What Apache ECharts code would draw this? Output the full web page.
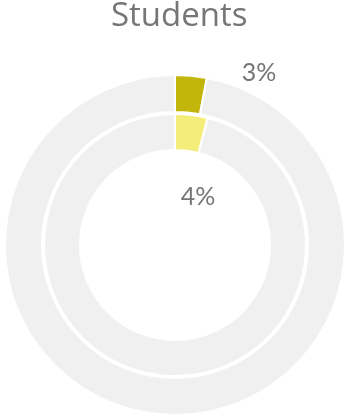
<!DOCTYPE html>
<html>
<head>
<meta charset="utf-8">
<script src="https://cdn.jsdelivr.net/npm/echarts@6/dist/echarts.min.js"></script>
<style>
  html, body { margin: 0; padding: 0; background: #fff; }
  #chart { width: 346px; height: 416px; }
</style>
</head>
<body>
<div id="chart"></div>
<script>
// Share of students, two rings: outer and inner measure
const titleText = 'Students';
const outerValues = [3, 97];
const innerValues = [4, 96];
const outerColors = ['#c2b50c', '#f0f0f0'];
const innerColors = ['#f4ed7a', '#f0f0f0'];

const chart = echarts.init(document.getElementById('chart'));

function ringData(values, colors) {
  return values.map((v, i) => ({
    value: v,
    itemStyle: { color: colors[i] },
    label: { show: i === 0 }
  }));
}

const labelStyle = {
  formatter: '{c}%',
  fontFamily: 'Lato',
  fontSize: 25,
  color: '#767676'
};

chart.setOption({
  animation: false,
  title: {
    text: titleText,
    left: 106,
    top: -5,
    textStyle: {
      fontFamily: 'Open Sans',
      fontWeight: 'normal',
      fontSize: 33,
      color: '#767676'
    }
  },
  series: [
    {
      type: 'pie',
      center: [175, 245],
      radius: [133, 170],
      startAngle: 90,
      clockwise: true,
      silent: true,
      itemStyle: { borderColor: '#fff', borderWidth: 2 },
      label: Object.assign({ position: 'outside' }, labelStyle),
      labelLine: { show: false },
      labelLayout: function () {
        return { x: 259, y: 73, align: 'center', verticalAlign: 'middle' };
      },
      data: ringData(outerValues, outerColors)
    },
    {
      type: 'pie',
      center: [175, 245],
      radius: [95, 131],
      startAngle: 90,
      clockwise: true,
      silent: true,
      itemStyle: { borderColor: '#fff', borderWidth: 2 },
      label: Object.assign({ position: 'outside' }, labelStyle),
      labelLine: { show: false },
      labelLayout: function () {
        return { x: 198, y: 197, align: 'center', verticalAlign: 'middle' };
      },
      data: ringData(innerValues, innerColors)
    }
  ]
});
</script>
</body>
</html>
